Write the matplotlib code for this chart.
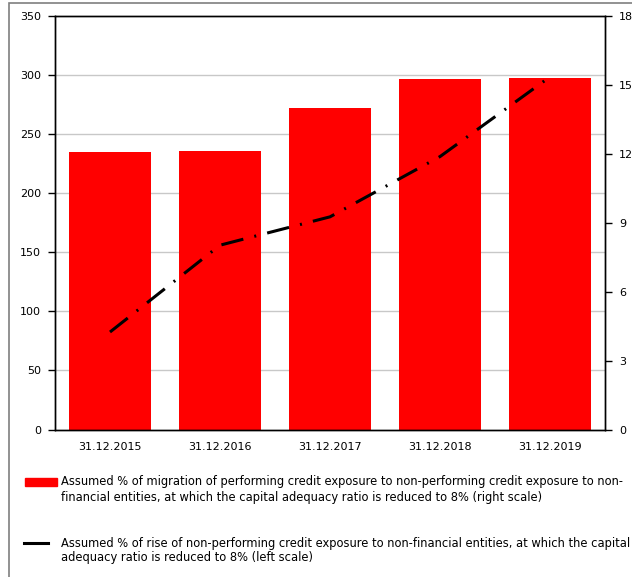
import matplotlib.pyplot as plt
from matplotlib.patches import Rectangle
from matplotlib.lines import Line2D

plt.rcParams['font.family'] = 'DejaVu Sans'
plt.rcParams['font.size'] = 8

# data
dates = ['31.12.2015', '31.12.2016', '31.12.2017', '31.12.2018', '31.12.2019']
migration = [12.08, 12.13, 14.01, 15.25, 15.31]   # bars, right scale
npl_rise = [82.5, 156, 180, 231, 298.5]           # line, left scale

label_bar = ('Assumed % of migration of performing credit exposure to non-performing credit exposure to non-\n'
             'financial entities, at which the capital adequacy ratio is reduced to 8% (right scale)')
label_line = ('Assumed % of rise of non-performing credit exposure to non-financial entities, at which the capital\n'
              'adequacy ratio is reduced to 8% (left scale)')

W, H = 632, 577
fig = plt.figure(figsize=(W / 100, H / 100), dpi=100)

# outer frame
fig.add_artist(Rectangle((9 / W, -0.1), 1.2, 1 - 3 / H + 0.1, transform=fig.transFigure,
                         fill=False, edgecolor='#7f7f7f', lw=1.2))

ax = fig.add_axes([55 / W, 1 - 429.5 / H, 550 / W, 413.5 / H])
ax2 = ax.twinx()

x = list(range(len(dates)))
ax2.bar(x, migration, width=0.74, color='#ff0000', zorder=2)
ax2.set_ylim(0, 18)
ax2.set_yticks(range(0, 19, 3))

ax.set_ylim(0, 350)
ax.set_yticks(range(0, 351, 50))
ax.set_xlim(-0.5, 4.5)

# line on left scale, drawn above bars
ax.set_zorder(ax2.get_zorder() + 1)
ax.patch.set_visible(False)
ax2.patch.set_visible(True)
ax2.patch.set_facecolor('white')
ax.plot(x, npl_rise, color='black', lw=2.2, dashes=(7.4, 3.7, 0.65, 3.7), zorder=5)

# gridlines on ax2 so they stay behind the bars
for v in range(50, 301, 50):
    ax2.axhline(v * 18 / 350, color='#c8c8c8', lw=1, zorder=1)

ax.set_xticks([i + 0.5 for i in range(-1, 5)])
ax.set_xticklabels([])
ax.set_xticks(x, minor=True)
ax.set_xticklabels(dates, minor=True)
ax.tick_params(axis='x', which='minor', length=0, pad=9)
ax.tick_params(axis='x', which='major', length=5, direction='out', width=1)
ax.tick_params(axis='y', length=5, width=1, pad=5)
ax2.tick_params(axis='y', length=5, width=1, pad=5)
ax2.set_xticks([])

for a in (ax, ax2):
    for s in a.spines.values():
        s.set_color('black')
        s.set_linewidth(1)

# legend drawn by hand
fig.add_artist(Rectangle((25 / W, 1 - 486 / H), 32 / W, 8 / H, transform=fig.transFigure,
                         color='#ff0000'))
fig.text(61 / W, 1 - 475.5 / H, label_bar, va='top', ha='left', linespacing=1.2, fontsize=8.3)
fig.add_artist(Line2D([24 / W, 48 / W], [1 - 543 / H, 1 - 543 / H], transform=fig.transFigure,
                      color='black', lw=2.2))
fig.text(61 / W, 1 - 536.5 / H, label_line, va='top', ha='left', linespacing=1.2, fontsize=8.3)

fig.savefig('out.png', dpi=100)
